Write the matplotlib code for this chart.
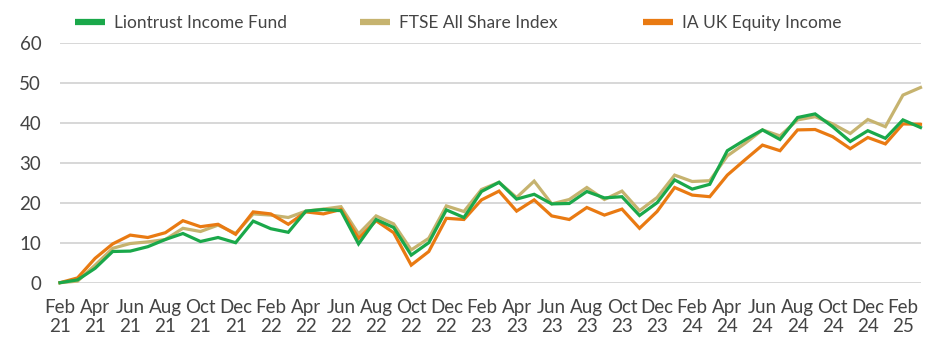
import matplotlib
matplotlib.use("Agg")
import matplotlib.pyplot as plt
from matplotlib.lines import Line2D
import numpy as np

# Monthly cumulative performance (%), Feb 2021 - Mar 2025
months = ["Feb 21", "Mar 21", "Apr 21", "May 21", "Jun 21", "Jul 21", "Aug 21", "Sep 21",
          "Oct 21", "Nov 21", "Dec 21", "Jan 22", "Feb 22", "Mar 22", "Apr 22", "May 22",
          "Jun 22", "Jul 22", "Aug 22", "Sep 22", "Oct 22", "Nov 22", "Dec 22", "Jan 23",
          "Feb 23", "Mar 23", "Apr 23", "May 23", "Jun 23", "Jul 23", "Aug 23", "Sep 23",
          "Oct 23", "Nov 23", "Dec 23", "Jan 24", "Feb 24", "Mar 24", "Apr 24", "May 24",
          "Jun 24", "Jul 24", "Aug 24", "Sep 24", "Oct 24", "Nov 24", "Dec 24", "Jan 25",
          "Feb 25", "Mar 25"]

liontrust = [0.0, 0.7, 3.6, 7.8, 7.9, 9.0, 10.8, 12.3, 10.3, 11.3, 10.0, 15.4, 13.5, 12.6,
             17.9, 18.3, 18.0, 9.7, 15.8, 13.8, 6.9, 10.0, 18.2, 16.3, 22.8, 25.1, 20.9,
             22.1, 19.7, 19.8, 22.8, 21.2, 21.5, 16.8, 20.0, 25.7, 23.4, 24.6, 33.0, 35.7,
             38.2, 35.8, 41.3, 42.2, 39.0, 35.3, 38.0, 36.1, 40.7, 38.8]

ftse_all_share = [0.0, 0.4, 4.4, 8.6, 9.8, 10.2, 10.8, 13.6, 12.8, 14.4, 12.3, 17.2, 16.9,
                  16.3, 17.9, 18.4, 19.0, 12.2, 16.7, 14.7, 8.2, 11.1, 19.2, 17.8, 23.3,
                  25.1, 21.3, 25.4, 19.7, 20.8, 23.8, 20.8, 22.9, 18.0, 21.3, 26.9, 25.3,
                  25.5, 31.7, 34.8, 38.2, 36.7, 40.7, 41.5, 39.7, 37.3, 40.8, 39.0, 46.9, 48.8]

ia_uk_equity_income = [0.0, 1.2, 6.1, 9.7, 11.9, 11.3, 12.5, 15.5, 14.0, 14.6, 12.1, 17.7,
                       17.2, 14.6, 17.7, 17.2, 18.3, 11.1, 15.5, 12.5, 4.4, 7.8, 16.1, 15.8,
                       20.7, 22.9, 17.9, 20.7, 16.7, 15.8, 18.8, 16.9, 18.4, 13.6, 17.8, 23.8,
                       21.9, 21.5, 26.9, 30.7, 34.4, 33.0, 38.2, 38.3, 36.5, 33.5, 36.3, 34.7,
                       39.7, 39.6]

y_ticks = [0, 10, 20, 30, 40, 50, 60]

GREEN = "#1aa84a"
TAN = "#c6b36f"
ORANGE = "#e97a12"
TEXT = "#444444"

plt.rcParams["font.family"] = ["Lato", "DejaVu Sans"]

W, H = 931, 339
fig = plt.figure(figsize=(W / 100, H / 100), dpi=100)
ax = fig.add_axes([60 / W, (H - 282.7) / H, (920.5 - 60) / W, 240 / H])

x = np.arange(len(months))
series = [
    ("Liontrust Income Fund", liontrust, GREEN, 5),
    ("FTSE All Share Index", ftse_all_share, TAN, 3),
    ("IA UK Equity Income", ia_uk_equity_income, ORANGE, 4),
]
for name, vals, col, z in series:
    ax.plot(x, vals, color=col, lw=2.3, solid_joinstyle="miter", clip_on=False, zorder=z)

ax.set_xlim(0, len(months) - 1)
ax.set_ylim(0, 60)
ax.set_yticks(y_ticks)
ax.set_yticklabels([str(v) for v in y_ticks])

tick_pos = x[::2]
ax.set_xticks(tick_pos)
ax.set_xticklabels([months[i].replace(" ", "\n") for i in tick_pos], linespacing=1.15)

ax.grid(axis="y", color="#d4d4d4", lw=1.3)
ax.set_axisbelow(True)
for s in ax.spines.values():
    s.set_visible(False)
ax.tick_params(axis="both", length=0, labelsize=13.5, labelcolor=TEXT)
ax.tick_params(axis="y", pad=13.5)
ax.tick_params(axis="x", pad=12)

# One legend entry per slot along the top
legend_x = [75, 360, 643]
for (name, vals, col, z), lx in zip(series, legend_x):
    handle = Line2D([], [], color=col, lw=4.5, solid_capstyle="butt")
    leg = fig.legend([handle], [name], loc="center left",
                     bbox_to_anchor=(lx / W, 1 - 23 / H), frameon=False,
                     borderpad=0, borderaxespad=0, handlelength=1.75, handletextpad=0.5,
                     prop={"size": 12.5})
    for t in leg.get_texts():
        t.set_color(TEXT)

fig.savefig("out.png", dpi=100)
